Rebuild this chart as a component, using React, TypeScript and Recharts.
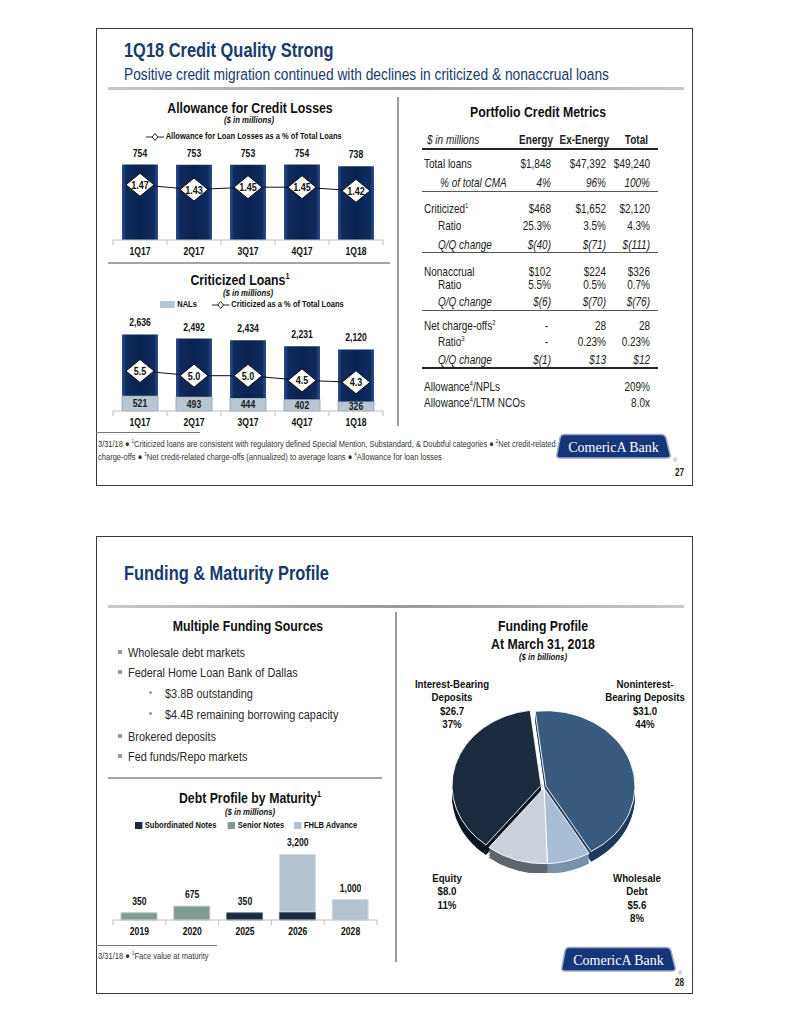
import React from 'react';
import { ComposedChart, Bar, Line, XAxis, YAxis, LabelList, PieChart, Pie, Cell } from 'recharts';

const NARROW = '"Liberation Sans Narrow","Arial Narrow","Liberation Sans",Arial,sans-serif';
const SERIF = '"Liberation Serif","DejaVu Serif",serif';
const TITLE_BLUE = '#1a3a6c';
const COND = 0.82;

// ---------- Allowance for Credit Losses ----------
const allowanceQuarters = ['1Q17', '2Q17', '3Q17', '4Q17', '1Q18'];
const allowanceValues = [754, 753, 753, 754, 738];
const allowanceRatio = [1.47, 1.43, 1.45, 1.45, 1.42];

// ---------- Criticized Loans ----------
const criticizedQuarters = ['1Q17', '2Q17', '3Q17', '4Q17', '1Q18'];
const criticizedTotals = [2636, 2492, 2434, 2231, 2120];
const nalValues = [521, 493, 444, 402, 326];
const criticizedRatio = [5.5, 5.0, 5.0, 4.5, 4.3];

// ---------- Debt Profile by Maturity ----------
const debtYears = ['2019', '2020', '2025', '2026', '2028'];
const subordinatedNotes = [0, 0, 350, 400, 0];
const seniorNotes = [350, 675, 0, 0, 0];
const fhlbAdvance = [0, 0, 0, 2800, 1000];

// ---------- Funding Profile ----------
const fundingNames = ['Noninterest-Bearing Deposits', 'Wholesale Debt', 'Equity', 'Interest-Bearing Deposits'];
const fundingValues = [31.0, 5.6, 8.0, 26.7];
const fundingTopColors = ['#3a5b80', '#a9bed5', '#c9d1db', '#1c2a3d'];
const fundingSideColors = ['#1f3a5a', '#7a91aa', '#5f666f', '#0c1520'];

// ---------- Portfolio Credit Metrics table ----------
const metricHeaders = ['Energy', 'Ex-Energy', 'Total'];
const metricRows: { label: string; sup?: string; vals: string[]; indent?: boolean; italic?: boolean; y: number }[] = [
  { label: 'Total loans', vals: ['$1,848', '$47,392', '$49,240'], y: 164 },
  { label: '% of total CMA', vals: ['4%', '96%', '100%'], indent: true, italic: true, y: 183 },
  { label: 'Criticized', sup: '1', vals: ['$468', '$1,652', '$2,120'], y: 209 },
  { label: 'Ratio', vals: ['25.3%', '3.5%', '4.3%'], indent: true, y: 226 },
  { label: 'Q/Q change', vals: ['$(40)', '$(71)', '$(111)'], indent: true, italic: true, y: 245 },
  { label: 'Nonaccrual', vals: ['$102', '$224', '$326'], y: 272 },
  { label: 'Ratio', vals: ['5.5%', '0.5%', '0.7%'], indent: true, y: 285 },
  { label: 'Q/Q change', vals: ['$(6)', '$(70)', '$(76)'], indent: true, italic: true, y: 302 },
  { label: 'Net charge-offs', sup: '2', vals: ['-', '28', '28'], y: 326 },
  { label: 'Ratio', sup: '3', vals: ['-', '0.23%', '0.23%'], indent: true, y: 342 },
  { label: 'Q/Q change', vals: ['$(1)', '$13', '$12'], indent: true, italic: true, y: 360 },
];
const metricFooterRows = [
  { pre: 'Allowance', sup: '4', post: '/NPLs', val: '209%', y: 387 },
  { pre: 'Allowance', sup: '4', post: '/LTM NCOs', val: '8.0x', y: 403 },
];

const fmtThousands = (v: any) => Number(v).toLocaleString('en-US');

const allowanceData = allowanceQuarters.map((q, i) => ({ q, value: allowanceValues[i], ratio: allowanceRatio[i] }));
const criticizedData = criticizedQuarters.map((q, i) => ({
  q,
  nal: nalValues[i],
  rest: criticizedTotals[i] - nalValues[i],
  total: criticizedTotals[i],
  ratio: criticizedRatio[i],
}));
const debtData = debtYears.map((y, i) => ({
  y,
  sub: subordinatedNotes[i],
  senior: seniorNotes[i],
  fhlb: fhlbAdvance[i],
  total: subordinatedNotes[i] + seniorNotes[i] + fhlbAdvance[i],
}));
const fundingData = fundingNames.map((name, i) => ({ name, value: fundingValues[i] }));

// ---------- helpers ----------
const T = ({ x, y, size = 11, bold = false, italic = false, align = 'left', color = '#222', font = NARROW, scale = COND, lh, children }: any) => {
  const lineH = lh != null ? lh : Math.round(size * 1.15);
  const style: React.CSSProperties = {
    position: 'absolute',
    top: y - lineH / 2,
    height: lineH,
    lineHeight: lineH + 'px',
    fontSize: size,
    fontWeight: bold ? 700 : 400,
    fontStyle: italic ? 'italic' : 'normal',
    color,
    fontFamily: font,
    whiteSpace: 'nowrap',
    transform: `scaleX(${scale})`,
  };
  if (align === 'left') {
    style.left = x;
    style.transformOrigin = '0 50%';
  } else if (align === 'right') {
    style.left = x - 400;
    style.width = 400;
    style.textAlign = 'right';
    style.transformOrigin = '100% 50%';
  } else {
    style.left = x - 300;
    style.width = 600;
    style.textAlign = 'center';
    style.transformOrigin = '50% 50%';
  }
  return <div style={style}>{children}</div>;
};

const HL = ({ x1, x2, y, h = 1, color = '#444', bg }: any) => (
  <div style={{ position: 'absolute', left: x1, top: y, width: x2 - x1, height: h, background: bg || color }} />
);
const VL = ({ x, y1, y2, w = 1, color = '#999' }: any) => (
  <div style={{ position: 'absolute', left: x, top: y1, width: w, height: y2 - y1, background: color }} />
);

const Sup = ({ children }: any) => <sup style={{ fontSize: '0.6em', verticalAlign: 'super', lineHeight: 0 }}>{children}</sup>;

const Frame = ({ top }: any) => (
  <div style={{ position: 'absolute', left: 96, top, width: 597, height: 458, border: '1px solid #3a3a3a', boxSizing: 'border-box' }} />
);

const TitleRule = ({ y }: any) => (
  <div style={{ position: 'absolute', left: 108, top: y, width: 576, height: 3, background: 'linear-gradient(90deg,#c8c8c8,#9a9a9a 50%,#c8c8c8)' }} />
);

const Logo = ({ x, y }: any) => (
  <div style={{ position: 'absolute', left: x, top: y }}>
    <svg width={126} height={30}>
      <path d="M8,1.5 L105,1.5 Q109,1.5 110,5 L114,21 Q115,25 111,25 L4,25 Q0,25 1,21 L4,5 Q5,1.5 8,1.5 Z" fill="#17367a" stroke="#9aaccb" strokeWidth={1.5} />
      <text x={57.5} y={18.5} textAnchor="middle" fill="#fff" fontFamily={SERIF} fontSize={14}>ComericA Bank</text>
      <text x={117} y={29} fontSize={6} fill="#888" fontFamily={NARROW}>®</text>
    </svg>
  </div>
);

// condensed SVG text
const CText = ({ x, y, size = 10.5, bold = true, fill = '#111', children }: any) => (
  <text transform={`translate(${x},${y}) scale(${COND},1)`} textAnchor="middle" fontFamily={NARROW} fontWeight={bold ? 700 : 400} fontSize={size} fill={fill}>
    {children}
  </text>
);

const topLabel = (fmt: (v: any) => string, off: number) => (props: any) => {
  const { x, y, width, value, index } = props;
  if (x == null || y == null) return null;
  return (
    <CText key={index} x={Number(x) + (Number(width) || 0) / 2} y={Number(y) - off}>
      {fmt(value)}
    </CText>
  );
};
const centerLabel = (props: any) => {
  const { x, y, width, height, value, index } = props;
  return (
    <CText key={index} x={Number(x) + Number(width) / 2} y={Number(y) + Number(height) / 2 + 3.8} fill="#1a1a1a">
      {value}
    </CText>
  );
};

const makeTick = (band: number, count: number) => (props: any) => {
  const { x, y, payload, index } = props;
  const axisY = y - 8;
  return (
    <g>
      <line x1={x - band / 2} y1={axisY} x2={x - band / 2} y2={axisY + 5} stroke="#bfbfbf" strokeWidth={1} />
      {index === count - 1 ? <line x1={x + band / 2} y1={axisY} x2={x + band / 2} y2={axisY + 5} stroke="#bfbfbf" strokeWidth={1} /> : null}
      <CText x={x} y={axisY + 15}>{payload.value}</CText>
    </g>
  );
};

const makeDiamond = (fmt: (v: number) => string) => (props: any) => {
  const { cx, cy, index, payload } = props;
  if (cx == null || cy == null) return <g key={index} />;
  const rx = 14;
  const ry = 11.5;
  return (
    <g key={index}>
      <polygon points={`${cx},${cy - ry} ${cx + rx},${cy} ${cx},${cy + ry} ${cx - rx},${cy}`} fill="#fff" stroke="#111" strokeWidth={1} />
      <CText x={cx} y={cy + 4} size={11}>{fmt(payload.ratio)}</CText>
    </g>
  );
};

const LegendLineDiamond = () => (
  <svg width={22} height={10} style={{ verticalAlign: 'middle', marginRight: 2 }}>
    <line x1={0} y1={5} x2={22} y2={5} stroke="#111" strokeWidth={1} />
    <polygon points="11,1.5 14.5,5 11,8.5 7.5,5" fill="#fff" stroke="#111" strokeWidth={1} />
  </svg>
);

const Swatch = ({ color, w = 9 }: any) => (
  <span style={{ display: 'inline-block', width: w, height: 7, background: color, marginRight: 3, verticalAlign: 'middle' }} />
);

const legendStyle = (left: number, top: number): React.CSSProperties => ({
  position: 'absolute',
  left,
  top,
  fontFamily: NARROW,
  fontWeight: 700,
  fontSize: 9.2,
  color: '#111',
  whiteSpace: 'nowrap',
  lineHeight: '11px',
  height: 11,
  transform: `scaleX(${COND})`,
  transformOrigin: '0 50%',
});

const NavyGrad = ({ id }: any) => (
  <defs>
    <linearGradient id={id} x1="0" y1="0" x2="1" y2="0">
      <stop offset="0%" stopColor="#2c4f8a" />
      <stop offset="12%" stopColor="#0f2b5e" />
      <stop offset="50%" stopColor="#0a2251" />
      <stop offset="88%" stopColor="#0f2b5e" />
      <stop offset="100%" stopColor="#2c4f8a" />
    </linearGradient>
  </defs>
);

// ---------- Pie with pseudo-3D ----------
const PIE_START = 97;
const PIE_END = PIE_START - 360;
const pieGroups = [
  { idx: [3], dx: -3, dy: -3 },
  { idx: [0], dx: 2, dy: -2 },
  { idx: [1, 2], dx: 0, dy: 0 },
];
const depthSteps = [12, 10, 8, 6, 4, 2];

const renderPieLayer = (key: string, cx: number, cy: number, visible: number[], colors: string[], stroke: string) => (
  <Pie
    key={key}
    data={fundingData}
    dataKey="value"
    cx={cx}
    cy={cy}
    outerRadius={89}
    startAngle={PIE_START}
    endAngle={PIE_END}
    isAnimationActive={false}
    stroke="none"
  >
    {fundingData.map((_, i) => (
      <Cell
        key={i}
        fill={visible.includes(i) ? colors[i] : 'transparent'}
        stroke={visible.includes(i) ? stroke : 'none'}
        strokeWidth={visible.includes(i) ? 1 : 0}
      />
    ))}
  </Pie>
);

const FundingPie = () => {
  const layers: any[] = [];
  pieGroups.forEach((g, gi) => {
    depthSteps.forEach((d) => {
      layers.push(renderPieLayer(`d${gi}-${d}`, 100 + g.dx, 100 + g.dy + d, g.idx, fundingSideColors, 'none'));
    });
  });
  pieGroups.forEach((g, gi) => {
    layers.push(renderPieLayer(`t${gi}`, 100 + g.dx, 100 + g.dy, g.idx, fundingTopColors, '#ffffff'));
  });
  return (
    <div style={{ position: 'absolute', left: 444, top: 688, width: 200, height: 200, transform: 'scaleY(0.85)', transformOrigin: '50% 50%' }}>
      <PieChart width={200} height={200} margin={{ top: 0, right: 0, bottom: 0, left: 0 }}>
        {layers}
      </PieChart>
    </div>
  );
};

export default function App() {
  const colR = [551, 606, 650];
  return (
    <div style={{ position: 'absolute', left: 0, top: 0, width: 791, height: 1024, background: '#fff', overflow: 'hidden' }}>
      {/* ================= PAGE 1 ================= */}
      <Frame top={28} />
      <T x={124} y={50} size={20} bold color={TITLE_BLUE}>1Q18 Credit Quality Strong</T>
      <T x={124} y={74} size={16.8} color={TITLE_BLUE}>Positive credit migration continued with declines in criticized &amp; nonaccrual loans</T>
      <TitleRule y={87} />

      {/* Allowance chart */}
      <T x={250} y={107} size={15} bold align="center" color="#111">Allowance for Credit Losses</T>
      <T x={249} y={120} size={9.5} bold italic align="center" color="#111" lh={10}>($ in millions)</T>
      <div style={legendStyle(146, 131)}>
        <LegendLineDiamond />Allowance for Loan Losses as a % of Total Loans
      </div>
      <div style={{ position: 'absolute', left: 108, top: 140 }}>
        <ComposedChart width={285} height={125} data={allowanceData} margin={{ top: 10, right: 10, bottom: 5, left: 5 }}>
          <NavyGrad id="navyA" />
          <XAxis dataKey="q" axisLine={{ stroke: '#bfbfbf' }} tickLine={false} interval={0} height={20} tick={makeTick(54, 5)} />
          <YAxis yAxisId="l" hide domain={[0, 900]} />
          <YAxis yAxisId="r" hide orientation="right" domain={[1.01, 1.76]} />
          <Bar yAxisId="l" dataKey="value" barSize={36} fill="url(#navyA)" isAnimationActive={false}>
            <LabelList dataKey="value" content={topLabel((v) => String(v), 8)} />
          </Bar>
          <Line yAxisId="r" dataKey="ratio" stroke="#111" strokeWidth={1} isAnimationActive={false} dot={makeDiamond((v) => v.toFixed(2))} activeDot={false} />
        </ComposedChart>
      </div>

      <HL x1={108} x2={390} y={262} h={2} color="#a6a6a6" />

      {/* Criticized loans chart */}
      <T x={240} y={279.5} size={15} bold align="center" color="#111" lh={13}>Criticized Loans<Sup>1</Sup></T>
      <T x={248} y={292} size={9.5} bold italic align="center" color="#111" lh={9}>($ in millions)</T>
      <div style={legendStyle(160, 299)}>
        <Swatch color="#b6c3d0" w={18} />NALs
        <span style={{ display: 'inline-block', width: 18 }} />
        <LegendLineDiamond />Criticized as a % of Total Loans
      </div>
      <div style={{ position: 'absolute', left: 108, top: 311 }}>
        <ComposedChart width={285} height={125} data={criticizedData} margin={{ top: 7, right: 10, bottom: 5, left: 5 }}>
          <NavyGrad id="navyB" />
          <XAxis dataKey="q" axisLine={{ stroke: '#bfbfbf' }} tickLine={false} interval={0} height={20} tick={makeTick(54, 5)} />
          <YAxis yAxisId="l" hide domain={[0, 3200]} />
          <YAxis yAxisId="r" hide orientation="right" domain={[1.24, 11.14]} />
          <Bar yAxisId="l" dataKey="nal" stackId="s" barSize={36} fill="#b8c5d2" stroke="#8d9db0" strokeWidth={0.8} isAnimationActive={false}>
            <LabelList dataKey="nal" content={centerLabel} />
          </Bar>
          <Bar yAxisId="l" dataKey="rest" stackId="s" barSize={36} fill="url(#navyB)" isAnimationActive={false}>
            <LabelList dataKey="total" content={topLabel(fmtThousands, 8)} />
          </Bar>
          <Line yAxisId="r" dataKey="ratio" stroke="#111" strokeWidth={1} isAnimationActive={false} dot={makeDiamond((v) => v.toFixed(1))} activeDot={false} />
        </ComposedChart>
      </div>

      <VL x={397} y1={97} y2={426} w={2} color="#9a9a9a" />

      {/* Portfolio Credit Metrics table */}
      <T x={538} y={111} size={15} bold align="center" color="#111">Portfolio Credit Metrics</T>
      <T x={427} y={140} size={12.2} italic>$ in millions</T>
      <T x={553} y={140} size={12.2} bold align="right">{metricHeaders[0]}</T>
      <T x={609} y={140} size={12.2} bold align="right">{metricHeaders[1]}</T>
      <T x={648} y={140} size={12.2} bold align="right">{metricHeaders[2]}</T>
      <HL x1={422} x2={658} y={148} h={2} color="#222" />
      {metricRows.map((r, i) => (
        <React.Fragment key={i}>
          <T x={r.indent ? (r.label.startsWith('%') ? 440 : 438) : 424} y={r.y} size={12.2} italic={r.italic}>
            {r.label}
            {r.sup ? <Sup>{r.sup}</Sup> : null}
          </T>
          {r.vals.map((v, j) => (
            <T key={j} x={v === '-' ? colR[j] - 3 : colR[j]} y={r.y} size={12.2} italic={r.italic} align="right">{v}</T>
          ))}
        </React.Fragment>
      ))}
      <HL x1={422} x2={658} y={191} h={1} color="#555" />
      <HL x1={422} x2={658} y={252} h={1} color="#555" />
      <HL x1={422} x2={658} y={310} h={1} color="#555" />
      <HL x1={422} x2={658} y={367} h={2} color="#222" />
      {metricFooterRows.map((r, i) => (
        <React.Fragment key={'f' + i}>
          <T x={424} y={r.y} size={12.2}>{r.pre}<Sup>{r.sup}</Sup>{r.post}</T>
          <T x={colR[2]} y={r.y} size={12.2} align="right">{r.val}</T>
        </React.Fragment>
      ))}

      {/* footnote */}
      <HL x1={96} x2={200} y={432} h={1} color="#777" />
      <T x={98} y={444} size={9.1} color="#333" lh={11}>
        3/31/18 ● <Sup>1</Sup>Criticized loans are consistent with regulatory defined Special Mention, Substandard, &amp; Doubtful categories ● <Sup>2</Sup>Net credit-related
      </T>
      <T x={98} y={457} size={9.2} color="#333" lh={11}>
        charge-offs ● <Sup>3</Sup>Net credit-related charge-offs (annualized) to average loans ● <Sup>4</Sup>Allowance for loan losses
      </T>
      <Logo x={556} y={433} />
      <T x={684} y={473} size={10} bold align="right" color="#222">27</T>

      {/* ================= PAGE 2 ================= */}
      <Frame top={536} />
      <T x={124} y={573} size={20} bold color={TITLE_BLUE}>Funding &amp; Maturity Profile</T>
      <TitleRule y={605} />

      <T x={248} y={625} size={15} bold align="center" color="#111">Multiple Funding Sources</T>
      {[
        { t: 'Wholesale debt markets', y: 652, sub: false },
        { t: 'Federal Home Loan Bank of Dallas', y: 672, sub: false },
        { t: '$3.8B outstanding', y: 693, sub: true },
        { t: '$4.4B remaining borrowing capacity', y: 714, sub: true },
        { t: 'Brokered deposits', y: 736, sub: false },
        { t: 'Fed funds/Repo markets', y: 756, sub: false },
      ].map((b, i) => (
        <React.Fragment key={'b' + i}>
          {b.sub ? (
            <div style={{ position: 'absolute', left: 149, top: b.y - 2, width: 3, height: 3, borderRadius: 2, background: '#9a9a9a' }} />
          ) : (
            <div style={{ position: 'absolute', left: 118, top: b.y - 2, width: 4, height: 4, background: '#9a9a9a' }} />
          )}
          <T x={b.sub ? 165 : 128} y={b.y} size={13.3} color="#2a2a2a">{b.t}</T>
        </React.Fragment>
      ))}

      <HL x1={108} x2={382} y={777} h={2} color="#a6a6a6" />
      <VL x={395} y1={612} y2={962} w={2} color="#9a9a9a" />

      {/* Debt profile chart */}
      <T x={250} y={797} size={15} bold align="center" color="#111">Debt Profile by Maturity<Sup>1</Sup></T>
      <T x={250} y={812} size={9.5} bold italic align="center" color="#111" lh={10}>($ in millions)</T>
      <div style={legendStyle(135, 820)}>
        <Swatch color="#1c2b3f" />Subordinated Notes
        <span style={{ display: 'inline-block', width: 14 }} />
        <Swatch color="#7f9b90" />Senior Notes
        <span style={{ display: 'inline-block', width: 12 }} />
        <Swatch color="#b3c1cf" />FHLB Advance
      </div>
      <div style={{ position: 'absolute', left: 108, top: 830 }}>
        <ComposedChart width={274} height={115} data={debtData} margin={{ top: 8, right: 5, bottom: 5, left: 5 }}>
          <XAxis dataKey="y" axisLine={{ stroke: '#bfbfbf' }} tickLine={false} interval={0} height={20} tick={makeTick(52.8, 5)} />
          <YAxis yAxisId="l" hide domain={[0, 4000]} />
          <Bar yAxisId="l" dataKey="sub" stackId="d" barSize={36} fill="#1c2b3f" stroke="#55657a" strokeWidth={0.8} isAnimationActive={false} />
          <Bar yAxisId="l" dataKey="senior" stackId="d" barSize={36} fill="#819d92" stroke="#b6c8c0" strokeWidth={1} isAnimationActive={false} />
          <Bar yAxisId="l" dataKey="fhlb" stackId="d" barSize={36} fill="#b5c3d1" stroke="#d6dee7" strokeWidth={1} isAnimationActive={false} />
          <Line yAxisId="l" dataKey="total" stroke="none" dot={false} activeDot={false} isAnimationActive={false}>
            <LabelList dataKey="total" content={topLabel(fmtThousands, 8)} />
          </Line>
        </ComposedChart>
      </div>

      {/* Funding profile pie */}
      <T x={543} y={625} size={15} bold align="center" color="#111">Funding Profile</T>
      <T x={543} y={643} size={15} bold align="center" color="#111">At March 31, 2018</T>
      <T x={543} y={657} size={9.5} bold italic align="center" color="#111" lh={10}>($ in billions)</T>
      <FundingPie />
      {[
        { lines: ['Interest-Bearing', 'Deposits', '$26.7', '37%'], x: 452, y: 684 },
        { lines: ['Noninterest-', 'Bearing Deposits', '$31.0', '44%'], x: 645, y: 684 },
        { lines: ['Equity', '$8.0', '11%'], x: 447, y: 878 },
        { lines: ['Wholesale', 'Debt', '$5.6', '8%'], x: 637, y: 878 },
      ].map((l, i) => (
        <React.Fragment key={'pl' + i}>
          {l.lines.map((s, j) => (
            <T key={j} x={l.x} y={l.y + j * 13.5} size={11.8} bold align="center" color="#111" lh={13}>{s}</T>
          ))}
        </React.Fragment>
      ))}

      <HL x1={96} x2={217} y={945} h={1} color="#777" />
      <T x={98} y={956} size={9.2} color="#333">3/31/18 ● <Sup>1</Sup>Face value at maturity</T>
      <Logo x={561} y={946} />
      <T x={684} y={983} size={10} bold align="right" color="#222">28</T>
    </div>
  );
}
